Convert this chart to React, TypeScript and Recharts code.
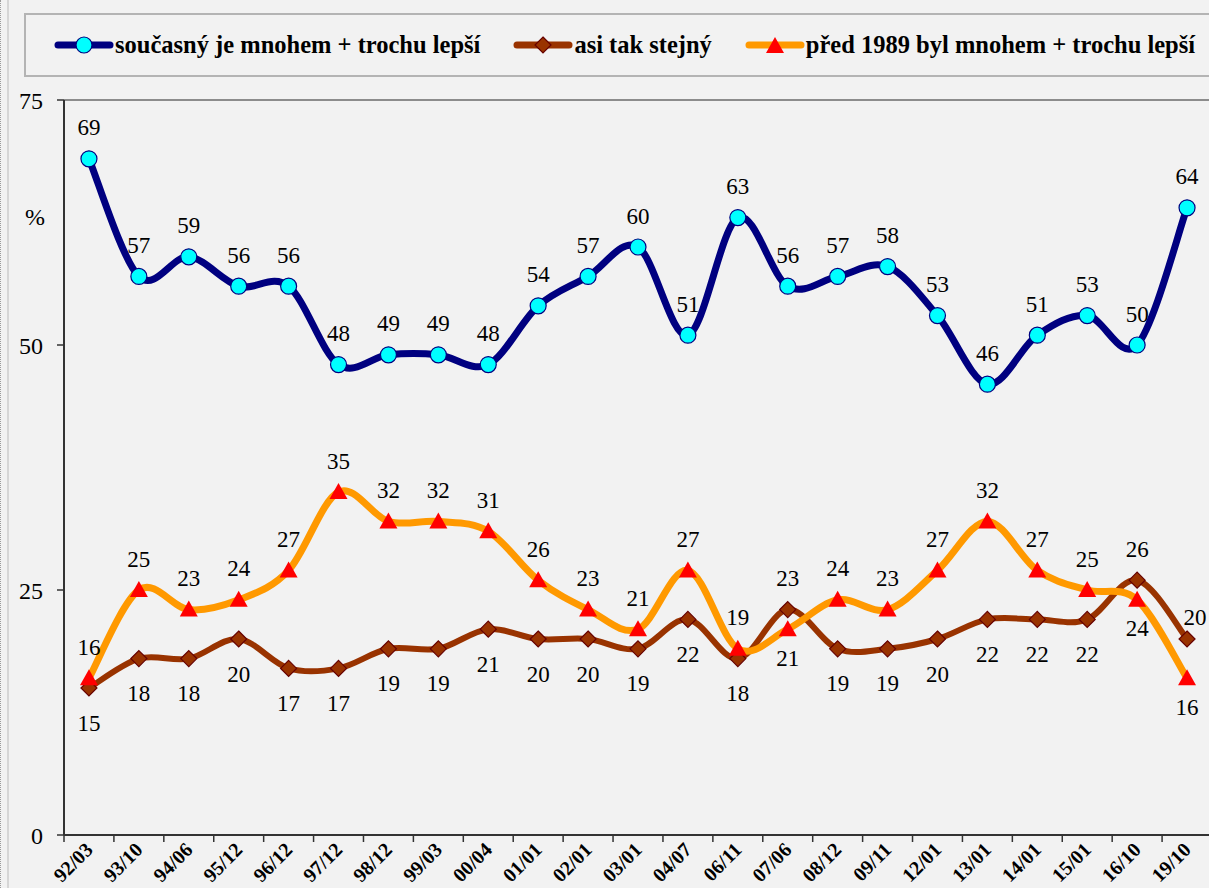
import React from "react";
import { LineChart, Line, XAxis, YAxis, LabelList, ReferenceLine } from "recharts";

// období průzkumu (rok/měsíc)
const periods = [
  "92/03", "93/10", "94/06", "95/12", "96/12", "97/12", "98/12", "99/03", "00/04", "01/01", "02/01", "03/01",
  "04/07", "06/11", "07/06", "08/12", "09/11", "12/01", "13/01", "14/01", "15/01", "16/10", "19/10",
];
const currentBetter = [69, 57, 59, 56, 56, 48, 49, 49, 48, 54, 57, 60, 51, 63, 56, 57, 58, 53, 46, 51, 53, 50, 64];
const aboutSame = [15, 18, 18, 20, 17, 17, 19, 19, 21, 20, 20, 19, 22, 18, 23, 19, 19, 20, 22, 22, 22, 26, 20];
const before1989Better = [16, 25, 23, 24, 27, 35, 32, 32, 31, 26, 23, 21, 27, 19, 21, 24, 23, 27, 32, 27, 25, 24, 16];
const yTicks = [0, 25, 50, 75];

const data = periods.map((p, i) => ({
  period: p,
  current: currentBetter[i],
  same: aboutSame[i],
  before: before1989Better[i],
}));

const FONT = "Liberation Serif, serif";
const CHART_W = 1212;
const Y_W = 64;
const BAND = (CHART_W - Y_W) / periods.length;

const NAVY = "#000080";
const BROWN = "#993300";
const ORANGE = "#FF9900";

// Excel-like smoothed line (Catmull-Rom through the points)
function smoothCurve(context: any) {
  let pts: number[][] = [];
  return {
    areaStart() {},
    areaEnd() {},
    lineStart() {
      pts = [];
    },
    point(x: number, y: number) {
      pts.push([+x, +y]);
    },
    lineEnd() {
      const n = pts.length;
      if (!n) return;
      context.moveTo(pts[0][0], pts[0][1]);
      for (let i = 0; i < n - 1; i++) {
        const p0 = pts[i - 1] || pts[i];
        const p1 = pts[i];
        const p2 = pts[i + 1];
        const p3 = pts[i + 2] || p2;
        context.bezierCurveTo(
          p1[0] + (p2[0] - p0[0]) / 6,
          p1[1] + (p2[1] - p0[1]) / 6,
          p2[0] - (p3[0] - p1[0]) / 6,
          p2[1] - (p3[1] - p1[1]) / 6,
          p2[0],
          p2[1]
        );
      }
    },
  };
}

const CircleDot = (props: any) => {
  const { cx, cy, index } = props;
  if (cx == null || cy == null) return null;
  return <circle key={`c${index}`} cx={cx} cy={cy} r={8} fill="#00FFFF" stroke={NAVY} strokeWidth={1.2} />;
};

const DiamondDot = (props: any) => {
  const { cx, cy, index } = props;
  if (cx == null || cy == null) return null;
  const s = 8;
  return (
    <path
      key={`d${index}`}
      d={`M${cx},${cy - s}L${cx + s},${cy}L${cx},${cy + s}L${cx - s},${cy}Z`}
      fill={BROWN}
      stroke="#660000"
      strokeWidth={1.2}
    />
  );
};

const TriangleDot = (props: any) => {
  const { cx, cy, index } = props;
  if (cx == null || cy == null) return null;
  return (
    <path
      key={`t${index}`}
      d={`M${cx},${cy - 9}L${cx + 9},${cy + 7}L${cx - 9},${cy + 7}Z`}
      fill="#FF0000"
    />
  );
};

// popisky: vyšší řada nad bodem, nižší pod bodem
const makeLabel = (own: number[], other: number[] | null, below: number) => (props: any) => {
  const { x, y, value, index } = props;
  const above = other ? own[index] >= other[index] : true;
  let lx = x;
  let ly = above ? y - 31 : y + below;
  if (other && above && index === own.length - 1) {
    lx = x + 8;
    ly = y - 22;
  }
  return (
    <text
      x={lx}
      y={ly}
      textAnchor="middle"
      dominantBaseline="central"
      fontFamily={FONT}
      fontSize={23}
      fill="#000"
    >
      {value}
    </text>
  );
};

const XTick = (props: any) => {
  const { x, y, payload, index } = props;
  const ax = x + 5;
  const ay = y + 16;
  return (
    <g>
      {index === 0 && <line x1={x - BAND / 2} y1={y} x2={x - BAND / 2} y2={y + 7} stroke="#333" strokeWidth={1.5} />}
      <line x1={x + BAND / 2} y1={y} x2={x + BAND / 2} y2={y + 7} stroke="#333" strokeWidth={1.5} />
      <text
        x={ax}
        y={ay}
        textAnchor="end"
        transform={`rotate(-45, ${ax}, ${ay})`}
        fontFamily={FONT}
        fontWeight="bold"
        fontSize={20}
        fill="#000"
      >
        {payload.value}
      </text>
    </g>
  );
};

const legendItems = [
  { name: "současný je mnohem + trochu lepší", color: NAVY, marker: "circle" },
  { name: "asi tak stejný", color: BROWN, marker: "diamond" },
  { name: "před 1989 byl mnohem + trochu lepší", color: ORANGE, marker: "triangle" },
];

const LegendIcon = ({ color, marker }: { color: string; marker: string }) => (
  <svg width={60} height={20} style={{ display: "block" }}>
    <line x1={4} y1={10} x2={56} y2={10} stroke={color} strokeWidth={7} strokeLinecap="round" />
    {marker === "circle" && <CircleDot cx={30} cy={10} />}
    {marker === "diamond" && <DiamondDot cx={30} cy={10} />}
    {marker === "triangle" && <TriangleDot cx={30} cy={11} />}
  </svg>
);

export default function App() {
  return (
    <div
      style={{
        position: "absolute",
        left: 0,
        top: 0,
        width: 1209,
        height: 888,
        overflow: "hidden",
        background: "#f2f2f2",
        fontFamily: FONT,
      }}
    >
      <div
        style={{
          position: "absolute",
          left: 0,
          top: 0,
          width: 9,
          height: 888,
          borderLeft: "1px dotted #9a9a9a",
          borderRight: "2px solid #d6d6d6",
          boxSizing: "border-box",
          zIndex: 2,
        }}
      />
      <div
        style={{
          position: "absolute",
          left: 24,
          top: 13,
          width: 1220,
          height: 64,
          boxSizing: "border-box",
          border: "2px solid #b4b4b4",
          display: "flex",
          alignItems: "center",
          paddingLeft: 28,
          gap: 33,
          zIndex: 2,
        }}
      >
        {legendItems.map((it) => (
          <div key={it.name} style={{ display: "flex", alignItems: "center", gap: 1 }}>
            <LegendIcon color={it.color} marker={it.marker} />
            <span
              style={{
                fontFamily: FONT,
                fontWeight: "bold",
                fontSize: 24.5,
                color: "#000",
                whiteSpace: "nowrap",
              }}
            >
              {it.name}
            </span>
          </div>
        ))}
      </div>
      <LineChart
        width={CHART_W}
        height={888}
        data={data}
        margin={{ top: 100, right: 0, bottom: 0, left: 0 }}
        style={{ fontFamily: FONT }}
      >
        <XAxis
          dataKey="period"
          height={53}
          interval={0}
          padding={{ left: BAND / 2, right: BAND / 2 }}
          tickSize={0}
          tickMargin={0}
          tickLine={false}
          tick={<XTick />}
          axisLine={{ stroke: "#333", strokeWidth: 2 }}
        />
        <YAxis
          width={Y_W}
          domain={[0, 75]}
          ticks={yTicks}
          interval={0}
          tickSize={7}
          tickMargin={14}
          axisLine={{ stroke: "#333", strokeWidth: 2 }}
          tickLine={{ stroke: "#333", strokeWidth: 1.5 }}
          tick={{ fill: "#000", fontSize: 24, fontFamily: FONT }}
          label={{
            value: "%",
            position: "insideTopLeft",
            dx: 20,
            dy: 103,
            fill: "#000",
            fontSize: 24,
            fontFamily: FONT,
          }}
        />
        <ReferenceLine y={75} stroke="#8c8c8c" strokeWidth={2} />
        <Line
          dataKey="same"
          type={smoothCurve as any}
          stroke={BROWN}
          strokeWidth={6}
          dot={<DiamondDot />}
          activeDot={false}
          isAnimationActive={false}
        >
          <LabelList dataKey="same" content={makeLabel(aboutSame, before1989Better, 35)} />
        </Line>
        <Line
          dataKey="before"
          type={smoothCurve as any}
          stroke={ORANGE}
          strokeWidth={7}
          dot={<TriangleDot />}
          activeDot={false}
          isAnimationActive={false}
        >
          <LabelList dataKey="before" content={makeLabel(before1989Better, aboutSame, 29)} />
        </Line>
        <Line
          dataKey="current"
          type={smoothCurve as any}
          stroke={NAVY}
          strokeWidth={7}
          dot={<CircleDot />}
          activeDot={false}
          isAnimationActive={false}
        >
          <LabelList dataKey="current" content={makeLabel(currentBetter, null, 0)} />
        </Line>
      </LineChart>
    </div>
  );
}
